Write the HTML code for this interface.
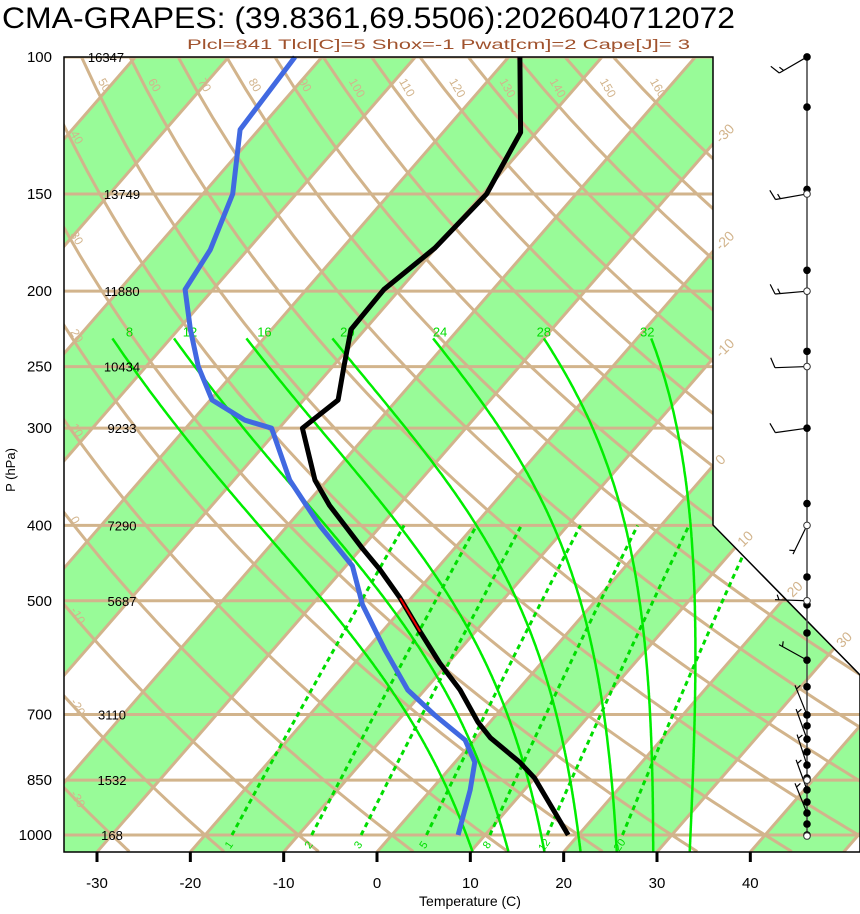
<!DOCTYPE html>
<html><head><meta charset="utf-8"><style>
html,body{margin:0;padding:0;background:#fff;}
svg{display:block;font-family:"Liberation Sans",Arial,sans-serif;}
</style></head><body>
<svg id="c" width="860" height="914" viewBox="0 0 860 914" xmlns="http://www.w3.org/2000/svg">
<defs><clipPath id="plotclip"><polygon points="64,57 713,57 713,525 860,675 860,852 64,852"/></clipPath></defs>
<text x="2" y="28" font-size="30" textLength="733" lengthAdjust="spacingAndGlyphs" fill="#000">CMA-GRAPES: (39.8361,69.5506):2026040712072</text>
<text x="187" y="49" font-size="14" textLength="503" lengthAdjust="spacingAndGlyphs" fill="#a0522d">Plcl=841 Tlcl[C]=5 Shox=-1 Pwat[cm]=2 Cape[J]= 3</text>
<g id="bg" clip-path="url(#plotclip)"></g>
<g id="fg"></g>
<text x="470" y="906" font-size="14" text-anchor="middle">Temperature (C)</text>
<text transform="translate(15,470) rotate(-90)" font-size="13" text-anchor="middle">P (hPa)</text>
</svg>
<script>
// ---- data ----
const pLevels=[100,150,200,250,300,400,500,700,850,1000];
const heightLabels=["16347","13749","11880","10434","9233","7290","5687","3110","1532","168"];
const xTicks=[-30,-20,-10,0,10,20,30,40];
const tempP=[1000,845,806,750,716,651,601,548,496,456,428,400,377,350,300,276,250,224,199,176,150,125,100];
const tempT=[18.9,10.0,6.9,1.5,-1.3,-6.2,-10.9,-15.9,-21.2,-26.0,-29.9,-33.9,-37.4,-41.3,-47.5,-46.3,-48.8,-51.5,-51.7,-50.1,-49.6,-51.7,-58.8];
const dewP=[1000,875,806,755,701,651,578,506,451,400,350,300,293,276,250,224,199,177,150,124,100];
const dewT=[7.1,4.2,2.1,-1.0,-6.6,-11.8,-18.0,-24.6,-29.3,-36.6,-44.0,-50.8,-54.4,-59.8,-64.4,-68.7,-73.0,-74.0,-76.8,-82.0,-82.9];
const moistLabels=[8,12,16,20,24,28,32];
const moistLabelDx=[17,16,18,15,7,0,-4];
const mixLabels=[1,2,3,5,8,12,20];
const dryThetas=[-30,-20,-10,0,10,20,30,40,50,60,70,80,90,100,110,120,130,140,150,160];
const dotP=[100,116,148,188,239,300,375,466,506,550,596,645,701,724,753,782,813,845,875,907,937,968,1000];
const openP=[150,200,250,400,500,850,1003];
const barbP=[100,150,200,250,300,400,500,596,701,753,813,875,937];
const barbDir=[240,260,265,268,262,206,272,299,338,340,342,340,338];
const barbSpd=[15,15,15,10,10,5,5,5,5,5,5,5,5];

// ---- scales ----
const NS="http://www.w3.org/2000/svg";
function Y(p){return 835-337.9*Math.log(1000/p);}
function XY(T,y){return 377+9.333*T+0.87*(852-y);}
function X(T,p){return XY(T,Y(p));}
const bg=document.getElementById('bg'), fg=document.getElementById('fg');
function mk(tag,attrs,parent){const e=document.createElementNS(NS,tag);for(const k in attrs)e.setAttribute(k,attrs[k]);parent.appendChild(e);return e;}
function pts(a){return a.map(q=>q[0].toFixed(1)+','+q[1].toFixed(1)).join(' ');}
const TAN="#d2b48c";

for(let T=-120;T<=40;T+=20){
  const b=mk('polygon',{points:pts([[XY(T,852),852],[XY(T+10,852),852],[XY(T+10,57),57],[XY(T,57),57]]),fill:'#98fb98'},bg);
  
  
}
for(let T=-120;T<=60;T+=10){
  const l=mk('line',{x1:XY(T,852),y1:852,x2:XY(T,57),y2:57,stroke:TAN,'stroke-width':3},bg);
  
  
}
function dryT(th,p){return (th+273.15)*Math.pow(p/1000,0.2857)-273.15;}
dryThetas.forEach(th=>{
  const a=[];for(let p=1050;p>=100;p-=10)a.push([X(dryT(th,p),p),Y(p)]);
  const l=mk('polyline',{points:pts(a),fill:'none',stroke:TAN,'stroke-width':3},bg);
  
  
});
pLevels.forEach(p=>{
  const l=mk('line',{x1:64,y1:Y(p),x2:860,y2:Y(p),stroke:TAN,'stroke-width':3},bg);
  
  
});
function es(T){return 6.112*Math.exp(17.67*T/(T+243.5));}
function moist(tw){
  const Rd=287,cp=1005,Lv=2.5e6;const out=[];
  function step(T,p,dp){const Tk=T+273.15;const e=es(T);const r=0.622*e/(p-e);
    return dp*(Rd*Tk+Lv*r)/(p*(cp+Lv*Lv*r*0.622/(Rd*Tk*Tk)));}
  let T=tw;const down=[];
  for(let p=1000;p<1050;p+=2){T+=step(T,p,2);down.push([X(T,p+2),Y(p+2)]);}
  T=tw;out.push([X(T,1000),Y(1000)]);
  for(let p=1000;p>230;p-=2){T+=step(T,p,-2);out.push([X(T,p-2),Y(p-2)]);}
  return down.reverse().concat(out);
}
moistLabels.forEach((tw,i)=>{
  const a=moist(tw);
  const l=mk('polyline',{points:pts(a),fill:'none',stroke:'#00ee00','stroke-width':2.5},bg);
  
  
  const top=a[a.length-1];
  const t=mk('text',{x:top[0]+moistLabelDx[i],y:top[1]-2,'font-size':13,fill:'#00dd00','text-anchor':'middle'},fg);
  t.textContent=tw;
  
  
});
function tdw(w,p){const e=w*p/(622+w);const l=Math.log(e/6.112);return 243.5*l/(17.67-l);}
mixLabels.forEach(w=>{
  const a=[];for(let p=1000;p>=400;p-=10)a.push([X(tdw(w,p),p),Y(p)]);
  const l=mk('polyline',{points:pts(a),fill:'none',stroke:'#00dd00','stroke-width':3,'stroke-dasharray':'5,4'},bg);
  
  
  const x=a[0][0],y=a[0][1]+12;
  const t=mk('text',{x:x,y:y,'font-size':11,fill:'#00dd00','text-anchor':'middle',transform:`rotate(-55 ${x} ${y})`},fg);
  t.textContent=w;
  
  
});
function profile(P,T,color,name){
  const l=mk('polyline',{points:pts(P.map((p,i)=>[X(T[i],p),Y(p)])),fill:'none',stroke:color,'stroke-width':5,'stroke-linejoin':'round'},fg);
  
  
}
profile(dewP,dewT,'#4169e1','dewpoint-profile');
profile(tempP,tempT,'#000','temperature-profile');
const red=mk('polyline',{points:pts([[X(tempT[7],tempP[7]),Y(tempP[7])],[X(tempT[8],tempP[8]),Y(tempP[8])]]),fill:'none',stroke:'#e00','stroke-width':2},fg);


const fr=mk('polygon',{points:'64,57 713,57 713,525 860,675 860,852 64,852',fill:'none',stroke:'#000','stroke-width':1.5},fg);


pLevels.forEach((p,i)=>{
  const t=mk('text',{x:52,y:Y(p)+5,'font-size':15,'text-anchor':'end'},fg);
  t.textContent=p;
  
  
  const hx=i===0?106:(i<7?122:112);
  const h=mk('text',{x:hx,y:Y(p)+5,'font-size':13,'text-anchor':'middle'},fg);
  h.textContent=heightLabels[i];
  
  
});
xTicks.forEach(T=>{
  const x=XY(T,852);
  const l=mk('line',{x1:x,y1:852,x2:x,y2:862,stroke:'#000','stroke-width':3},fg);
  
  
  const t=mk('text',{x:x,y:888,'font-size':15,'text-anchor':'middle'},fg);
  t.textContent=T;
  
  
});
for(let T=-30;T<=30;T+=10){
  let y=852-(713-377-9.333*T)/0.87, x=713+8;
  if(y>525){
    y=(377+9.333*T+0.87*852-713+0.98*525)/(0.87+0.98); x=713+0.98*(y-525)+8;}
  const t=mk('text',{x:x,y:y,'font-size':14,fill:TAN,transform:`rotate(-45 ${x} ${y})`},fg);
  t.textContent=T;
  
  
}
dryThetas.forEach(th=>{
  let x,y;
  if(th<=40){
    let best=null;for(let p=1050;p>=100;p-=1){const xx=X(dryT(th,p),p);if(xx<=66){best=p;break;}}
    if(best===null)return; x=70;y=Y(best)+4;
  } else {x=X(dryT(th,114),114)-5;y=Y(114)-20;}
  const t=mk('text',{x:x,y:y,'font-size':12,fill:TAN,transform:`rotate(60 ${x} ${y})`},fg);
  t.textContent=th;
  
  
});
const WX=807;
const st=mk('line',{x1:WX,y1:Y(100),x2:WX,y2:Y(1003),stroke:'#444','stroke-width':1.5},fg);


barbP.forEach((p,i)=>{
  const d=barbDir[i]*Math.PI/180, L=32, y0=Y(p);
  const ex=WX+L*Math.sin(d), ey=y0-L*Math.cos(d);
  let path=`M${WX},${y0} L${ex.toFixed(1)},${ey.toFixed(1)}`;
  let s=barbSpd[i], k=0;
  const ux=Math.sin(d), uy=-Math.cos(d), px=-uy, py=ux;
  while(s>=10){const bx=ex-ux*k*5, by=ey-uy*k*5;path+=` M${bx.toFixed(1)},${by.toFixed(1)} l${(px*10+ux*4).toFixed(1)},${(py*10+uy*4).toFixed(1)}`;s-=10;k++;}
  if(s>=5){const bx=ex-ux*(k*5+(k?0:4)), by=ey-uy*(k*5+(k?0:4));path+=` M${bx.toFixed(1)},${by.toFixed(1)} l${(px*5+ux*2).toFixed(1)},${(py*5+uy*2).toFixed(1)}`;}
  const b=mk('path',{d:path,fill:'none',stroke:'#000','stroke-width':1.2},fg);
  
  
});
dotP.forEach(p=>{
  const c=mk('circle',{cx:WX,cy:Y(p),r:3.8,fill:'#000'},fg);
  
  
});
openP.forEach(p=>{
  const c=mk('circle',{cx:WX,cy:Y(p),r:3.3,fill:'#fff',stroke:'#333','stroke-width':1},fg);
  
  
});
</script>
</body></html>
